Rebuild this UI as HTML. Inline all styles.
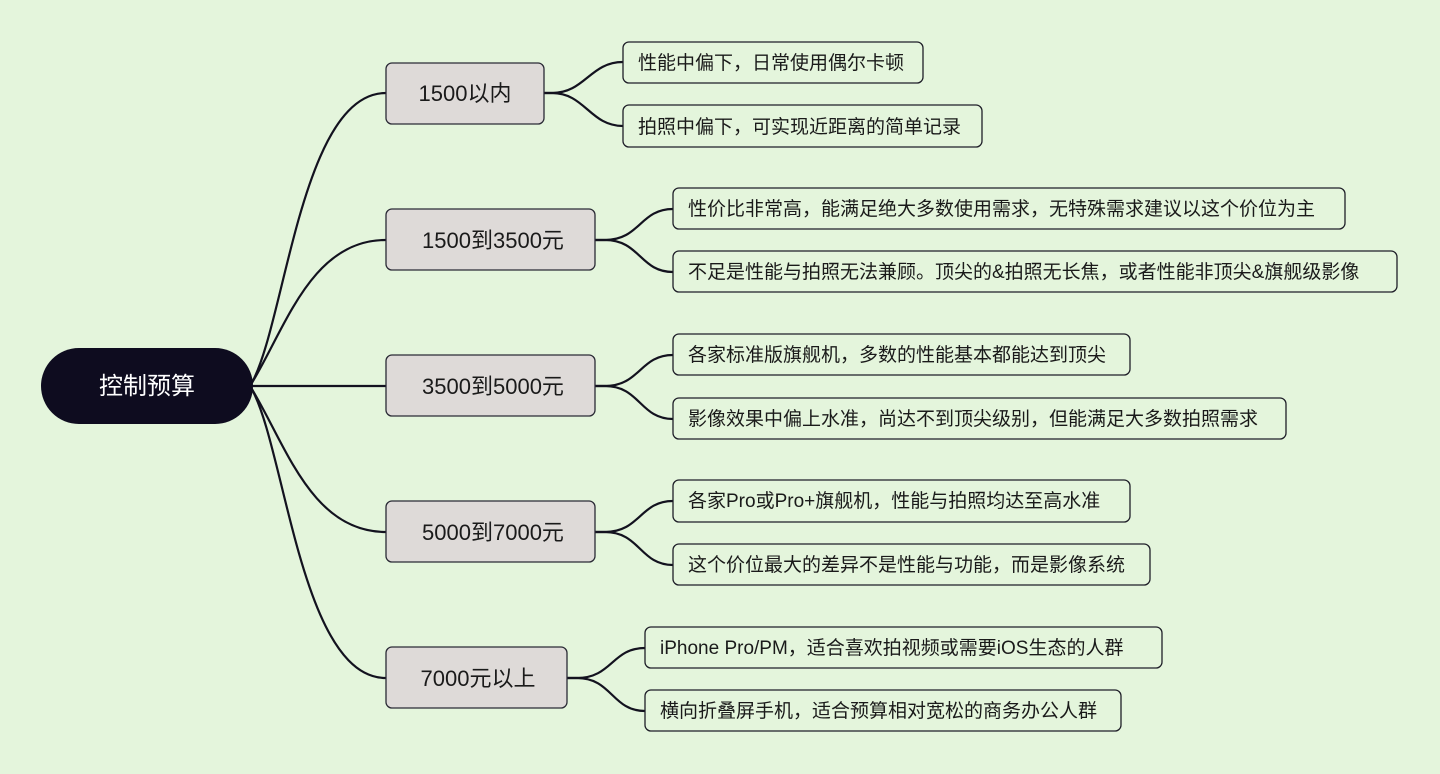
<!DOCTYPE html>
<html><head><meta charset="utf-8"><style>
html,body{margin:0;padding:0;background:#e4f5dc;}
svg{display:block}
text{font-family:"Liberation Sans","Noto Sans CJK SC",sans-serif;fill:#1a1a1a}
</style></head><body>
<svg width="1440" height="774" viewBox="0 0 1440 774" xmlns="http://www.w3.org/2000/svg">
<rect width="1440" height="774" fill="#e4f5dc"/>
<g fill="none" stroke="#13121f" stroke-width="2.2">
<path d="M250 386 C285 330 300 93 386 93"/>
<path d="M250 386 C285 330 310 240 386 240"/>
<path d="M250 386 L386 386"/>
<path d="M250 386 C285 442 310 532 386 532"/>
<path d="M250 386 C285 442 300 678 386 678"/>
<path d="M544 93 L552 93 C585 93 590 62 623 62"/>
<path d="M544 93 L552 93 C585 93 590 126 623 126"/>
<path d="M595 240 L605 240 C640 240 640 209 673 209"/>
<path d="M595 240 L605 240 C640 240 640 272 673 272"/>
<path d="M595 386 L605 386 C640 386 640 355 673 355"/>
<path d="M595 386 L605 386 C640 386 640 419 673 419"/>
<path d="M595 532 L605 532 C640 532 640 501 673 501"/>
<path d="M595 532 L605 532 C640 532 640 565 673 565"/>
<path d="M567 678 L577 678 C612 678 612 648 645 648"/>
<path d="M567 678 L577 678 C612 678 612 711 645 711"/>
</g>
<rect x="41" y="348" width="212" height="76" rx="38" fill="#0e0c1f"/>
<text x="147" y="394" font-size="24" text-anchor="middle" style="fill:#fff">控制预算</text>
<g fill="#dedad8" stroke="#2a2a35" stroke-width="1.3">
<rect x="386" y="63" width="158" height="61" rx="6"/>
<rect x="386" y="209" width="209" height="61" rx="6"/>
<rect x="386" y="355" width="209" height="61" rx="6"/>
<rect x="386" y="501" width="209" height="61" rx="6"/>
<rect x="386" y="647" width="181" height="61" rx="6"/>
</g>
<g font-size="22" text-anchor="middle">
<text x="465" y="101">1500以内</text>
<text x="493" y="248">1500到3500元</text>
<text x="493" y="394">3500到5000元</text>
<text x="493" y="540">5000到7000元</text>
<text x="478" y="686">7000元以上</text>
</g>
<g fill="none" stroke="#1e1e28" stroke-width="1.3">
<rect x="623" y="42" width="300" height="41" rx="6"/>
<rect x="623" y="105" width="359" height="42" rx="6"/>
<rect x="673" y="188" width="672" height="41" rx="6"/>
<rect x="673" y="251" width="724" height="41" rx="6"/>
<rect x="673" y="334" width="457" height="41" rx="6"/>
<rect x="673" y="398" width="613" height="41" rx="6"/>
<rect x="673" y="480" width="457" height="42" rx="6"/>
<rect x="673" y="544" width="477" height="41" rx="6"/>
<rect x="645" y="627" width="517" height="41" rx="6"/>
<rect x="645" y="690" width="476" height="41" rx="6"/>
</g>
<g font-size="19">
<text x="638" y="69">性能中偏下，日常使用偶尔卡顿</text>
<text x="638" y="133">拍照中偏下，可实现近距离的简单记录</text>
<text x="688" y="215">性价比非常高，能满足绝大多数使用需求，无特殊需求建议以这个价位为主</text>
<text x="688" y="278">不足是性能与拍照无法兼顾。顶尖的&amp;拍照无长焦，或者性能非顶尖&amp;旗舰级影像</text>
<text x="688" y="361">各家标准版旗舰机，多数的性能基本都能达到顶尖</text>
<text x="688" y="425">影像效果中偏上水准，尚达不到顶尖级别，但能满足大多数拍照需求</text>
<text x="688" y="507">各家Pro或Pro+旗舰机，性能与拍照均达至高水准</text>
<text x="688" y="571">这个价位最大的差异不是性能与功能，而是影像系统</text>
<text x="660" y="654">iPhone Pro/PM，适合喜欢拍视频或需要iOS生态的人群</text>
<text x="660" y="717">横向折叠屏手机，适合预算相对宽松的商务办公人群</text>
</g>
</svg>
</body></html>
